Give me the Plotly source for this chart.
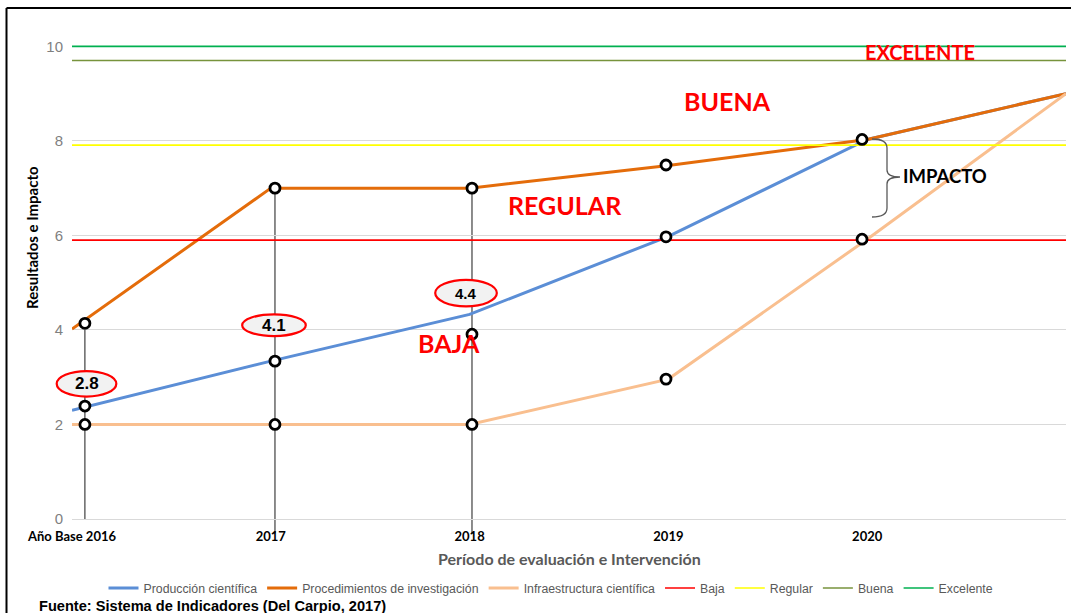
import plotly.graph_objects as go

# ---------------- data ----------------
periods = ["Año Base 2016", "2017", "2018", "2019", "2020", ""]
x_pos = [0, 1, 2, 3, 4, 5]

produccion = [2.3, 3.34, 4.33, 5.98, 8.03, 9.0]
procedimientos = [4.02, 7.0, 7.0, 7.48, 8.03, 9.0]
infraestructura = [2.0, 2.0, 2.0, 2.96, 5.92, 9.0]

baja = [5.9] * 6
regular = [7.91] * 6
buena = [9.7] * 6
excelente = [10.0] * 6

# overlay markers (callout circles drawn on top of the chart)
ov_x = [0.065, 1.021, 2.012, 2.988, 3.974]
ov_orange = [4.14, 7.0, 7.0, 7.49, 8.03]
ov_blue = [2.39, 3.34, 3.91, 5.97, None]
ov_peach = [2.0, 2.0, 2.0, 2.96, 5.92]

# vertical guide lines: (x, top value, bottom value)
guides_x = [0.065, 1.021, 2.012]
guides_top = [4.14, 7.0, 7.0]
guides_bot = [0.0, -0.3, -0.3]

# callout ellipses (labels)
callout_text = ["2.8", "4.1", "4.4"]
callout_cx = [0.073, 1.016, 1.982]
callout_cy = [2.86, 4.1, 4.78]
callout_w = [0.30, 0.32, 0.31]
callout_h = [0.54, 0.46, 0.56]
callout_size = [17, 17, 15]

zone_labels = ["EXCELENTE", "BUENA", "REGULAR", "BAJA"]
zone_x = [4.266, 3.295, 2.48, 1.896]
zone_y = [9.88, 8.84, 6.64, 3.72]
zone_size = [20, 25, 25, 25]

# ---------------- layout geometry ----------------
W, H = 1071, 613
ML, MR, MT, MB = 72, 5, 44, 94
PW = W - ML - MR
PH = H - MT - MB
Y_MAX = 10.05


def px(xp):
    return (xp - ML) / PW


def py(yp):
    return (H - MB - yp) / PH


def vy(v):
    return v / Y_MAX


fig = go.Figure()

series = [
    ("Producción científica", produccion, "#5B8ED6", 3),
    ("Procedimientos de investigación", procedimientos, "#E46C0A", 3),
    ("Infraestructura científica", infraestructura, "#F9BF8F", 3),
    ("Baja", baja, "#FF0000", 1.6),
    ("Regular", regular, "#FFFF00", 1.6),
    ("Buena", buena, "#77933C", 1.6),
    ("Excelente", excelente, "#00B050", 1.6),
]
for name, vals, col, w in series:
    fig.add_trace(go.Scatter(x=x_pos, y=vals, mode="lines", name=name,
                             line=dict(color=col, width=w)))

# overlay markers
for vals in (ov_orange, ov_blue, ov_peach):
    fig.add_trace(go.Scatter(
        x=ov_x, y=vals, mode="markers", showlegend=False, cliponaxis=False,
        marker=dict(symbol="circle", size=10, color="white",
                    line=dict(color="black", width=2.8)),
        hoverinfo="skip"))

shapes = []
# vertical guide lines
for gx, gt, gb in zip(guides_x, guides_top, guides_bot):
    shapes.append(dict(type="line", xref="x", yref="paper", x0=gx, x1=gx,
                       y0=vy(gb), y1=vy(gt), layer="below",
                       line=dict(color="#1A1A1A", width=1)))
# callout ellipses
for cx, cy, w, h in zip(callout_cx, callout_cy, callout_w, callout_h):
    shapes.append(dict(type="circle", xref="paper", yref="paper",
                       x0=px(ML + (cx - w / 2) * PW / 5), x1=px(ML + (cx + w / 2) * PW / 5),
                       y0=vy(cy - h / 2), y1=vy(cy + h / 2),
                       fillcolor="#F2F2F2", line=dict(color="#FF0000", width=2.2),
                       layer="above"))

# brace for IMPACTO
pts = [(872, 139), (887, 139), (887, 148), (887, 170), (887, 177), (900, 177),
       (887, 177), (887, 184), (887, 208), (887, 217), (872, 217)]
c = [f"{px(a):.5f},{py(b):.5f}" for a, b in pts]
brace = (f"M {c[0]} Q {c[1]} {c[2]} L {c[3]} Q {c[4]} {c[5]} "
         f"Q {c[6]} {c[7]} L {c[8]} Q {c[9]} {c[10]}")
shapes.append(dict(type="path", xref="paper", yref="paper", path=brace,
                   line=dict(color="#595959", width=1.3)))

# outer frame (left and top)
shapes.append(dict(type="line", xref="paper", yref="paper",
                   x0=px(6.5), x1=px(6.5), y0=py(8), y1=py(613),
                   line=dict(color="black", width=2)))
shapes.append(dict(type="line", xref="paper", yref="paper",
                   x0=px(6.5), x1=px(1071), y0=py(8), y1=py(8),
                   line=dict(color="black", width=2)))

annotations = []
for t, cx, cy, s in zip(callout_text, callout_cx, callout_cy, callout_size):
    annotations.append(dict(x=cx, y=cy, xref="x", yref="y", text=f"<b>{t}</b>",
                            xanchor="center", yanchor="middle",
                            showarrow=False, font=dict(family="Arial", size=s, color="black")))
for t, zx, zy, s in zip(zone_labels, zone_x, zone_y, zone_size):
    annotations.append(dict(x=zx, y=zy, xref="x", yref="y", text=f"<b>{t}</b>",
                            xanchor="center", yanchor="middle",
                            showarrow=False, font=dict(family="Lato", size=s, color="#FF0000")))
annotations.append(dict(x=px(901), y=py(176), xref="paper", yref="paper",
                        xanchor="left", yanchor="middle", text="<b>IMPACTO</b>", showarrow=False,
                        font=dict(family="Lato", size=18.5, color="black")))
annotations.append(dict(x=px(32), y=py(238), xref="paper", yref="paper",
                        xanchor="center", yanchor="middle",
                        text="<b>Resultados e Impacto</b>", textangle=-90, showarrow=False,
                        font=dict(family="Lato", size=15, color="black")))
annotations.append(dict(x=0.5, y=py(558), xref="paper", yref="paper",
                        xanchor="center", yanchor="middle",
                        text="<b>Período de evaluación e Intervención</b>", showarrow=False,
                        font=dict(family="Lato", size=16, color="#595959")))
annotations.append(dict(x=px(37), y=py(606), xref="paper", yref="paper",
                        xanchor="left", yanchor="middle",
                        text="<b>Fuente: Sistema de Indicadores (Del Carpio, 2017)</b>",
                        showarrow=False, font=dict(family="Arial", size=14.6, color="black")))

fig.update_layout(
    width=W, height=H,
    margin=dict(l=ML, r=MR, t=MT, b=MB),
    plot_bgcolor="white", paper_bgcolor="white",
    showlegend=True,
    legend=dict(orientation="h", x=px(551), xanchor="center", y=py(588), yanchor="middle",
                font=dict(family="Arial", size=12.3, color="#595959"),
                itemwidth=30, tracegroupgap=0),
    shapes=shapes, annotations=annotations,
    xaxis=dict(range=[0, 5], tickvals=x_pos, ticktext=periods, showgrid=False,
               zeroline=False, showline=False, ticks="",
               tickfont=dict(family="Lato", size=13, color="black", weight="bold"),
               ticklabelstandoff=8),
    yaxis=dict(range=[0, Y_MAX], tickvals=[0, 2, 4, 6, 8, 10], showgrid=True,
               gridcolor="#D9D9D9", gridwidth=1, zeroline=True, zerolinecolor="#D9D9D9",
               zerolinewidth=1, showline=False, ticks="",
               tickfont=dict(family="Arial", size=15, color="#7F7F7F"),
               ticklabelstandoff=8),
)

fig.write_html("out.html", config={"displayModeBar": False},
               post_script="document.body.style.margin='0';")
